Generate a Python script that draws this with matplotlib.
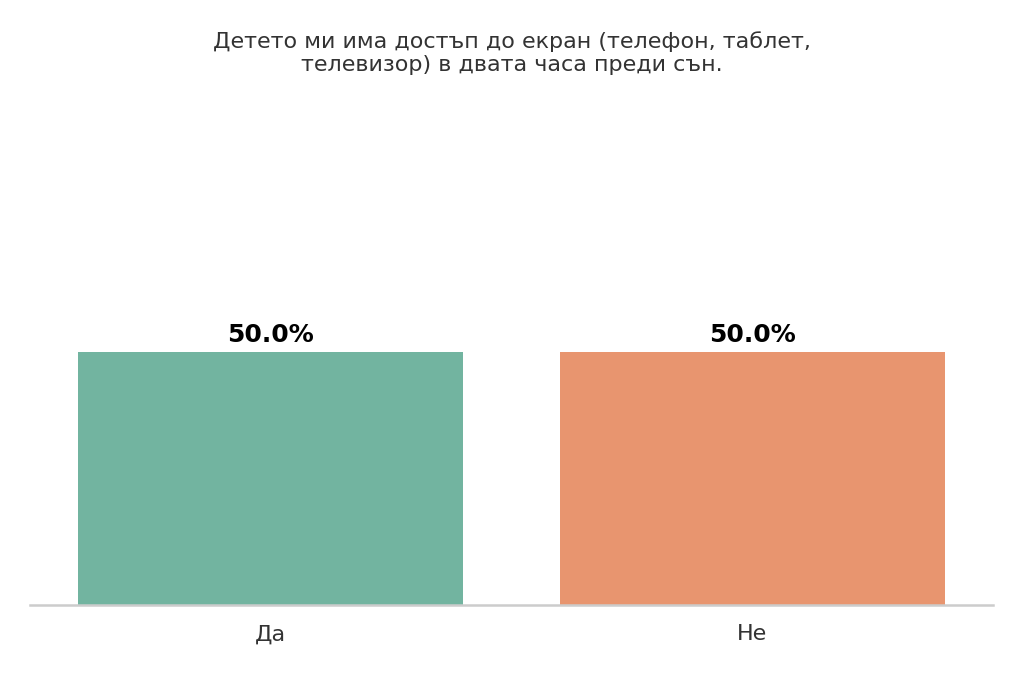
import matplotlib
matplotlib.use("Agg")
import matplotlib.pyplot as plt

# ----------------------------
# DATA
# ----------------------------
categories = ["Да", "Не"]
percentages = [50.0, 50.0]
bar_colors = ["#72b4a0", "#e8956f"]
title = "Детето ми има достъп до екран (телефон, таблет,\nтелевизор) в двата часа преди сън."

fig = plt.figure(figsize=(10.24, 6.83), dpi=100)
ax = fig.add_axes([30 / 1024, 78 / 683, 963 / 1024, 505 / 683])

x = range(len(categories))
bars = ax.bar(x, percentages, width=0.8, color=bar_colors)

for b, v in zip(bars, percentages):
    ax.text(b.get_x() + b.get_width() / 2, v + 1, f"{v:.1f}%",
            ha="center", va="bottom", fontsize=18, fontweight="bold", color="black")

ax.set_xlim(-0.5, 1.5)
ax.set_ylim(0, 100)
ax.set_xticks(list(x))
ax.set_xticklabels(categories, fontsize=16, color="#333333")
ax.tick_params(axis="x", length=0, pad=14)
ax.set_yticks([])

for name, spine in ax.spines.items():
    spine.set_visible(name == "bottom")
ax.spines["bottom"].set_color("#cccccc")
ax.spines["bottom"].set_linewidth(1.8)

fig.text(0.5, 0.955, title, ha="center", va="top", fontsize=16, color="#333333")

fig.savefig("out.png", dpi=100)
